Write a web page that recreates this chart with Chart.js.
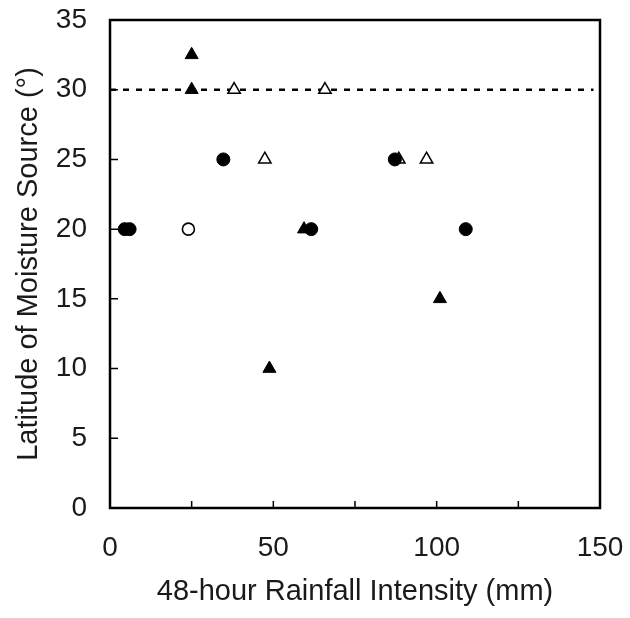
<!DOCTYPE html>
<html>
<head>
<meta charset="utf-8">
<script src="https://cdn.jsdelivr.net/npm/chart.js@4.4.0/dist/chart.umd.min.js"></script>
<style>
  html, body { margin: 0; padding: 0; background: #fff; }
  #wrap { width: 630px; height: 618px; position: relative; }
</style>
</head>
<body>
<div id="wrap"><canvas id="c" width="630" height="618"></canvas></div>
<script>
// ---- Data ----
const filledCircleX = [4.5, 6, 34.7, 61.6, 87.2, 108.9];
const filledCircleY = [20, 20, 25, 20, 25, 20];
const openCircleX = [24];
const openCircleY = [20];
const filledTriangleX = [25, 25, 59.4, 48.8, 101];
const filledTriangleY = [32.5, 30, 20, 10, 15];
const openTriangleX = [38, 65.8, 47.4, 88.4, 96.9];
const openTriangleY = [30, 30, 25, 25, 25];
const thresholdX = [0, 148];
const thresholdY = [30, 30];
const xTicks = [0, 50, 100, 150];
const yTicks = [0, 5, 10, 15, 20, 25, 30, 35];
const xTitle = '48-hour Rainfall Intensity (mm)';
const yTitle = 'Latitude of Moisture Source (°)';

const pts = (xs, ys) => xs.map((x, i) => ({ x: x, y: ys[i] }));

const FONT = "'Liberation Sans', Arial, Helvetica, sans-serif";
const TEXT = '#1a1a1a';

function noPad(s) {
  s.paddingTop = 0; s.paddingBottom = 0; s.paddingLeft = 0; s.paddingRight = 0;
}

// Frame + inward ticks plugin
const framePlugin = {
  id: 'frame',
  afterDatasetsDraw(chart) {
    const { ctx, chartArea: a, scales } = chart;
    ctx.save();
    ctx.strokeStyle = '#000';
    ctx.lineWidth = 2.5;
    ctx.strokeRect(a.left, a.top, a.right - a.left, a.bottom - a.top);
    ctx.lineWidth = 1.5;
    ctx.beginPath();
    for (let v = 25; v < 150; v += 25) {
      const px = scales.x.getPixelForValue(v);
      ctx.moveTo(px, a.bottom);
      ctx.lineTo(px, a.bottom - 7);
    }
    for (let v = 5; v < 35; v += 5) {
      const py = scales.y.getPixelForValue(v);
      ctx.moveTo(a.left, py);
      ctx.lineTo(a.left + 8, py);
    }
    ctx.stroke();
    ctx.restore();
  }
};

new Chart(document.getElementById('c'), {
  type: 'scatter',
  data: {
    datasets: [
      {
        label: 'filled circle',
        data: pts(filledCircleX, filledCircleY),
        pointStyle: 'circle', pointRadius: 6.5,
        backgroundColor: '#000', borderColor: '#000', borderWidth: 1
      },
      {
        label: 'open circle',
        data: pts(openCircleX, openCircleY),
        pointStyle: 'circle', pointRadius: 6,
        backgroundColor: '#fff', borderColor: '#000', borderWidth: 1.6
      },
      {
        label: 'filled triangle',
        data: pts(filledTriangleX, filledTriangleY),
        pointStyle: 'triangle', pointRadius: 7.5,
        backgroundColor: '#000', borderColor: '#000', borderWidth: 1
      },
      {
        label: 'open triangle',
        data: pts(openTriangleX, openTriangleY),
        pointStyle: 'triangle', pointRadius: 7.2,
        backgroundColor: '#fff', borderColor: '#000', borderWidth: 1.5
      },
      {
        type: 'line',
        label: 'threshold',
        data: pts(thresholdX, thresholdY),
        borderColor: '#000', borderWidth: 2.5,
        borderDash: [6, 7],
        pointRadius: 0, fill: false, showLine: true
      }
    ]
  },
  options: {
    responsive: false,
    animation: false,
    devicePixelRatio: 1,
    layout: { autoPadding: false, padding: { top: 20, right: 30, left: 0, bottom: 0 } },
    plugins: { legend: { display: false }, tooltip: { enabled: false } },
    scales: {
      x: {
        type: 'linear', min: 0, max: 150,
        afterFit(s) { s.height = 110; noPad(s); },
        afterBuildTicks(s) { s.ticks = xTicks.map(v => ({ value: v })); },
        grid: { display: false, drawTicks: false },
        border: { display: false },
        ticks: {
          color: TEXT, font: { family: FONT, size: 28 },
          padding: 23, maxRotation: 0, autoSkip: false
        },
        title: {
          display: true, text: xTitle, color: TEXT,
          font: { family: FONT, size: 29 }, padding: { top: 4, bottom: 9 }
        }
      },
      y: {
        type: 'linear', min: 0, max: 35,
        afterFit(s) { s.width = 110; noPad(s); },
        afterBuildTicks(s) { s.ticks = yTicks.map(v => ({ value: v })); },
        grid: { display: false, drawTicks: false },
        border: { display: false },
        ticks: {
          color: TEXT, font: { family: FONT, size: 28 },
          padding: 23, autoSkip: false
        },
        title: {
          display: true, text: yTitle, color: TEXT,
          font: { family: FONT, size: 29 }, padding: { top: 12, bottom: 4 }
        }
      }
    }
  },
  plugins: [framePlugin]
});
</script>
</body>
</html>
